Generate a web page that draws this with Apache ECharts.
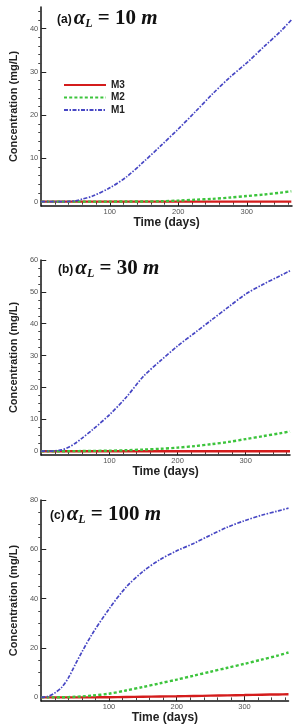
<!DOCTYPE html>
<html>
<head>
<meta charset="utf-8">
<script src="https://cdn.jsdelivr.net/npm/echarts@6/dist/echarts.min.js"></script>
<style>
  html, body { margin: 0; padding: 0; background: #fff; }
  #chart { width: 293px; height: 725px; }
</style>
</head>
<body>
<div id="chart"></div>
<script>
// sample days (x) shared by every panel
const days = [0, 10, 20, 30, 40, 50, 60, 75, 100, 125, 150, 175, 200, 225, 250, 275, 300, 325, 350, 365];

// (a) alpha_L = 10 m
const m1A = [0, 0, 0, 0, 0.05, 0.2, 0.6, 1.3, 3.2, 5.8, 9.3, 13, 16.8, 20.8, 24.9, 28.7, 32.1, 35.8, 39.5, 42];
const m2A = [0, 0, 0, 0, 0, 0, 0, 0, 0.02, 0.03, 0.05, 0.1, 0.25, 0.45, 0.65, 0.95, 1.3, 1.65, 2.1, 2.4];
const m3A = [0, 0, 0, 0, 0, 0, 0, 0, 0, 0, 0, 0, 0, 0, 0, 0, 0, 0, 0, 0];

// (b) alpha_L = 30 m
const m1B = [0, 0, 0.1, 0.4, 1.2, 2.5, 4.1, 6.7, 11.4, 17, 23.5, 28.4, 33, 37.1, 41.2, 45.3, 49.3, 52.3, 55, 56.6];
const m2B = [0, 0, 0, 0, 0, 0.02, 0.04, 0.08, 0.15, 0.3, 0.5, 0.75, 1.1, 1.6, 2.2, 2.9, 3.8, 4.7, 5.6, 6.2];
const m3B = [0, 0, 0, 0, 0, 0, 0, 0, 0, 0, 0, 0, 0, 0, 0, 0, 0, 0, 0, 0];

// (c) alpha_L = 100 m
const m1C = [0, 0.4, 1.8, 4, 7.9, 13.2, 18.4, 25.6, 35.8, 44.6, 51, 55.8, 59.4, 62.4, 65.8, 69, 71.6, 73.8, 75.6, 76.7];
const m2C = [0, 0, 0.02, 0.05, 0.1, 0.25, 0.4, 0.7, 1.5, 2.8, 4.2, 5.7, 7.2, 8.8, 10.4, 12, 13.6, 15.3, 17, 18.2];
const m3C = [0, 0, 0, 0, 0, 0, 0, 0.02, 0.05, 0.15, 0.25, 0.35, 0.45, 0.57, 0.7, 0.82, 0.95, 1.1, 1.2, 1.3];

// tick labels
const xTicks = [100, 200, 300];
const xMinor = [20, 40, 60, 80, 120, 140, 160, 180, 220, 240, 260, 280, 320, 340, 360];
const yTicksA = [0, 10, 20, 30, 40];
const yTicksB = [0, 10, 20, 30, 40, 50, 60];
const yTicksC = [0, 20, 40, 60, 80];
const yMinorA = [2, 4, 6, 8, 12, 14, 16, 18, 22, 24, 26, 28, 32, 34, 36, 38, 42, 44];
const yMinorB = [2.5, 5, 7.5, 12.5, 15, 17.5, 22.5, 25, 27.5, 32.5, 35, 37.5, 42.5, 45, 47.5, 52.5, 55, 57.5];
const yMinorC = [5, 10, 15, 25, 30, 35, 45, 50, 55, 65, 70, 75];

const panels = [
    { tag: '(a)', val: '10', m1: m1A, m2: m2A, m3: m3A, yTicks: yTicksA, yMinor: yMinorA,
      yMin: -1, yMax: 45, xMax: 366, grid: { left: 33, top: 7, width: 259, height: 199 },
      title: { left: 52, top: 3 }, nameGap: 8 },
    { tag: '(b)', val: '30', m1: m1B, m2: m2B, m3: m3B, yTicks: yTicksB, yMinor: yMinorB,
      yMin: -1.2, yMax: 60, xMax: 365, grid: { left: 34, top: 260, width: 256, height: 195 },
      title: { left: 53, top: 253 }, nameGap: 8 },
    { tag: '(c)', val: '100', m1: m1C, m2: m2C, m3: m3C, yTicks: yTicksC, yMinor: yMinorC,
      yMin: -1.5, yMax: 80, xMax: 365, grid: { left: 34.5, top: 500, width: 254, height: 202 },
      title: { left: 45, top: 499 }, nameGap: 9 }
];

const pairs = (vals) => days.map((d, i) => [d, vals[i]]);

const sans = 'Arial, "Liberation Sans", sans-serif';
const serif = '"Liberation Serif", "DejaVu Serif", serif';
const axisLine = { show: true, onZero: false, lineStyle: { color: '#111', width: 1.5 } };
const tickLabel = { color: '#555', fontSize: 7.5, fontFamily: sans };

let grid = [], xAxis = [], yAxis = [], series = [], title = [];

panels.forEach(function(p, k) {
    grid.push(p.grid);

    // main x axis + overlay for minor ticks
    xAxis.push({
        type: 'value', gridIndex: k, min: 0, max: p.xMax,
        name: 'Time (days)', nameLocation: 'middle', nameGap: p.nameGap,
        nameTextStyle: { fontSize: 12, fontWeight: 'bold', color: '#222', fontFamily: sans },
        axisLine: axisLine, splitLine: { show: false },
        axisTick: { inside: true, length: 5, customValues: xTicks, lineStyle: { color: '#222' } },
        axisLabel: Object.assign({ customValues: xTicks, margin: 2 }, tickLabel)
    });
    xAxis.push({
        type: 'value', gridIndex: k, min: 0, max: p.xMax,
        axisLine: { show: false }, splitLine: { show: false }, axisLabel: { show: false },
        axisTick: { inside: true, length: 3, customValues: xMinor, lineStyle: { color: '#444' } }
    });

    // main y axis + overlay for minor ticks
    yAxis.push({
        type: 'value', gridIndex: k, min: p.yMin, max: p.yMax,
        name: 'Concentration (mg/L)', nameLocation: 'middle', nameGap: 22,
        nameTextStyle: { fontSize: 11, fontWeight: 'bold', color: '#222', fontFamily: sans },
        axisLine: axisLine, splitLine: { show: false },
        axisTick: { inside: true, length: 5, customValues: p.yTicks, lineStyle: { color: '#222' } },
        axisLabel: Object.assign({ customValues: p.yTicks, margin: 3 }, tickLabel)
    });
    yAxis.push({
        type: 'value', gridIndex: k, min: p.yMin, max: p.yMax,
        axisLine: { show: false }, splitLine: { show: false }, axisLabel: { show: false },
        axisTick: { inside: true, length: 3, customValues: p.yMinor, lineStyle: { color: '#444' } }
    });

    const common = {
        type: 'line', xAxisIndex: 2 * k, yAxisIndex: 2 * k, showSymbol: false, symbol: 'none',
        smooth: 0.3, clip: false, animation: false
    };
    series.push(Object.assign({}, common, {
        name: 'M3', data: pairs(p.m3), z: 3,
        itemStyle: { color: '#d41c1c' }, lineStyle: { color: '#d41c1c', width: 2.4, type: 'solid' }
    }));
    series.push(Object.assign({}, common, {
        name: 'M2', data: pairs(p.m2), z: 4,
        itemStyle: { color: '#3cc43c' }, lineStyle: { color: '#3cc43c', width: 2.4, type: [3, 2.2] }
    }));
    series.push(Object.assign({}, common, {
        name: 'M1', data: pairs(p.m1), z: 5,
        itemStyle: { color: '#4747c4' }, lineStyle: { color: '#4747c4', width: 1.7, type: [4, 1.5, 1.5, 1.5] }
    }));

    title.push({
        left: p.title.left, top: p.title.top,
        text: '{t|' + p.tag + '}{a|α}{s|L}{e| = ' + p.val + ' }{a|m}',
        textStyle: {
            rich: {
                t: { fontSize: 12, fontWeight: 'bold', color: '#111', fontFamily: sans, padding: [2, 2, 0, 0] },
                a: { fontSize: 21, fontWeight: 'bold', fontStyle: 'italic', color: '#111', fontFamily: serif },
                s: { fontSize: 12, fontWeight: 'bold', fontStyle: 'italic', color: '#111', fontFamily: serif, padding: [10, 0, 0, 0] },
                e: { fontSize: 21, fontWeight: 'bold', color: '#111', fontFamily: serif }
            }
        }
    });
});

const chart = echarts.init(document.getElementById('chart'), null, { renderer: 'canvas' });
chart.setOption({
    backgroundColor: '#fff',
    animation: false,
    title: title,
    legend: {
        data: ['M3', 'M2', 'M1'],
        orient: 'vertical', left: 58, top: 75,
        itemWidth: 42, itemHeight: 10, itemGap: 2.5, itemTextGap: 13,
        itemStyle: { opacity: 0 },
        textStyle: { fontSize: 10, fontWeight: 'bold', color: '#222', fontFamily: sans }
    },
    grid: grid,
    xAxis: xAxis,
    yAxis: yAxis,
    series: series
});
</script>
</body>
</html>
